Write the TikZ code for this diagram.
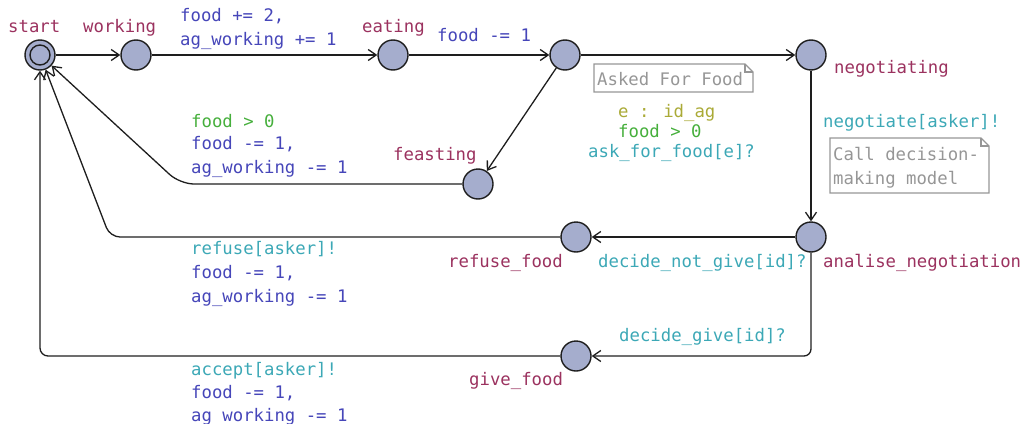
\documentclass[tikz,border=0pt]{standalone}
\usepackage{fontspec}
\setmainfont{DejaVu Sans Mono}
\usetikzlibrary{arrows.meta}
\definecolor{locname}{RGB}{155,50,95}
\definecolor{assigncol}{RGB}{70,70,185}
\definecolor{guardcol}{RGB}{70,175,60}
\definecolor{synccol}{RGB}{60,168,182}
\definecolor{selectcol}{RGB}{170,170,55}
\definecolor{notecol}{RGB}{150,150,150}
\definecolor{locfill}{RGB}{165,173,205}
\definecolor{linecol}{RGB}{30,30,30}
\begin{document}
\begin{tikzpicture}[x=1pt,y=-1pt,
  font=\fontsize{17.3}{20}\selectfont,
  loc/.style={circle,draw=linecol,fill=locfill,line width=1.4pt,minimum size=30pt,inner sep=0pt},
  edge/.style={draw=linecol,line width=1.3pt,rounded corners=10pt,
    -{Straight Barb[length=8pt,width=11pt]}},
  lbl/.style={anchor=base west,inner sep=0pt},
  nm/.style={lbl,text=locname},
  asg/.style={lbl,text=assigncol},
  grd/.style={lbl,text=guardcol},
  syn/.style={lbl,text=synccol},
  sel/.style={lbl,text=selectcol},
  nt/.style={lbl,text=notecol},
  notebox/.style={draw=notecol,line width=1.2pt}]
\useasboundingbox (0,0) rectangle (1022,423);

% locations
\node[loc] (start) at (40,55) {};
\draw[linecol,line width=1.4pt] (start.center) circle (10);
\node[loc] (working) at (136,55) {};
\node[loc] (eating) at (393,55) {};
\node[loc] (ask) at (565,55) {};
\node[loc] (negotiating) at (811,55) {};
\node[loc] (feasting) at (478,184) {};
\node[loc] (analise) at (811,237) {};
\node[loc] (refuse) at (576,237) {};
\node[loc] (give) at (576,356) {};

% location names
\node[nm] (nstart) at (8,32) {start};
\node[nm] (nworking) at (83,32) {working};
\node[nm] (neating) at (362,32) {eating};
\node[nm] (nnegotiating) at (834,73) {negotiating};
\node[nm] (nfeasting) at (393,160) {feasting};
\node[nm] (nanalise) at (823,267) {analise\_negotiation};
\node[nm] (nrefuse) at (448,267) {refuse\_food};
\node[nm] (ngive) at (469,385) {give\_food};

% edges
\draw[edge] (start) -- (working);
\draw[edge] (working) -- (eating);
\draw[edge] (eating) -- (ask);
\draw[edge] (ask) -- (negotiating);
\draw[edge] (ask) -- (feasting);
\draw[edge,rounded corners=14pt] (feasting) -- (180,184) -- (start);
\draw[edge] (negotiating) -- (analise);
\draw[edge] (analise) -- (refuse);
\draw[edge] (refuse) -- (110,237) -- (start);
\draw[edge,rounded corners=7pt] (analise) -- (811,356) -- (give);
\draw[edge,rounded corners=8pt] (give) -- (40,356) -- (start);

% edge labels
\node[asg] (l1a) at (180,21) {food += 2,};
\node[asg] (l1b) at (180,45) {ag\_working += 1};
\node[asg] (l2a) at (437,41) {food -= 1};
\node[sel] (l3a) at (618,117) {e : id\_ag};
\node[grd] (l3b) at (618,137) {food > 0};
\node[syn] (l3c) at (588,157) {ask\_for\_food[e]?};
\node[grd] (l4a) at (191,127) {food > 0};
\node[asg] (l4b) at (191,149) {food -= 1,};
\node[asg] (l4c) at (191,173) {ag\_working -= 1};
\node[syn] (l5a) at (823,127) {negotiate[asker]!};
\node[syn] (l6a) at (598,267) {decide\_not\_give[id]?};
\node[syn] (l7a) at (191,254) {refuse[asker]!};
\node[asg] (l7b) at (191,278) {food -= 1,};
\node[asg] (l7c) at (191,302) {ag\_working -= 1};
\node[syn] (l8a) at (619,341) {decide\_give[id]?};
\node[syn] (l9a) at (191,375) {accept[asker]!};
\node[asg] (l9b) at (191,398) {food -= 1,};
\node[asg] (l9c) at (191,421) {ag\_working -= 1};

% notes
\draw[notebox] (594,64) -- (745,64) -- (753,72) -- (753,92) -- (594,92) -- cycle;
\draw[notebox] (745,64) -- (745,72) -- (753,72);
\node[nt] (note1) at (597,85) {Asked For Food};
\draw[notebox] (830,138) -- (981,138) -- (989,146) -- (989,193) -- (830,193) -- cycle;
\draw[notebox] (981,138) -- (981,146) -- (989,146);
\node[nt] (note2a) at (833,160) {Call decision-};
\node[nt] (note2b) at (833,184) {making model};
\end{tikzpicture}
\end{document}
